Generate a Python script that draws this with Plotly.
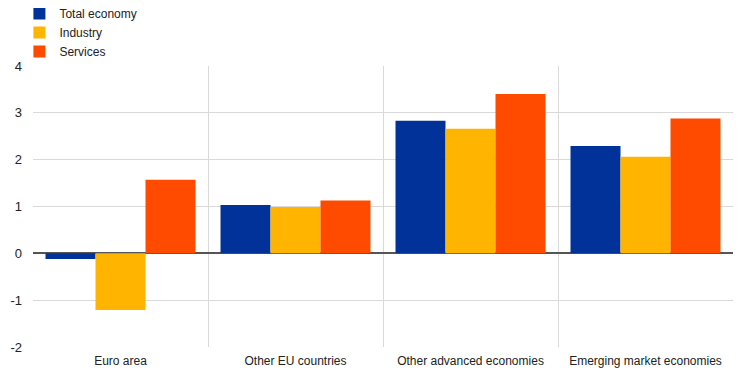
import plotly.graph_objects as go

categories = ["Euro area", "Other EU countries", "Other advanced economies", "Emerging market economies"]
total_economy = [-0.12, 1.03, 2.83, 2.29]
industry = [-1.21, 0.99, 2.66, 2.06]
services = [1.57, 1.13, 3.40, 2.88]
y_ticks = [-2, -1, 0, 1, 2, 3, 4]
y_tick_labels = ["-2", "-1", "0", "1", "2", "3", "4"]

series = [
    ("Total economy", total_economy, "#003299"),
    ("Industry", industry, "#FFB400"),
    ("Services", services, "#FF4B00"),
]

fig = go.Figure()
for name, vals, col in series:
    fig.add_trace(go.Bar(x=categories, y=vals, name=name, marker_color=col, marker_line_width=0))

fig.update_layout(
    width=736, height=366,
    margin=dict(l=25, r=11, t=58, b=27, autoexpand=False),
    barmode="group", bargap=0.143, bargroupgap=0,
    plot_bgcolor="white", paper_bgcolor="white",
    font=dict(family="Liberation Sans, Arial, sans-serif", size=12, color="#222222"),
    legend=dict(x=-0.0194, y=1.238, xanchor="left", yanchor="top", orientation="v",
                font=dict(size=12, color="#222222"), tracegroupgap=0, itemwidth=30,
                bgcolor="rgba(0,0,0,0)"),
    xaxis=dict(type="category", tickson="boundaries", showgrid=True, gridcolor="#d9d9d9",
               gridwidth=1, ticks="", showline=False, zeroline=False, ticklabelstandoff=5,
               tickfont=dict(size=12, color="#222222")),
    yaxis=dict(range=[-2, 4], tickmode="array", tickvals=y_ticks, ticktext=y_tick_labels,
               showgrid=True, gridcolor="#d9d9d9", gridwidth=1,
               zeroline=True, zerolinecolor="#555555", zerolinewidth=1.5, ticks="",
               showline=False, ticklabelstandoff=10, tickfont=dict(size=13, color="#222222")),
)

fig.write_html("out.html")
